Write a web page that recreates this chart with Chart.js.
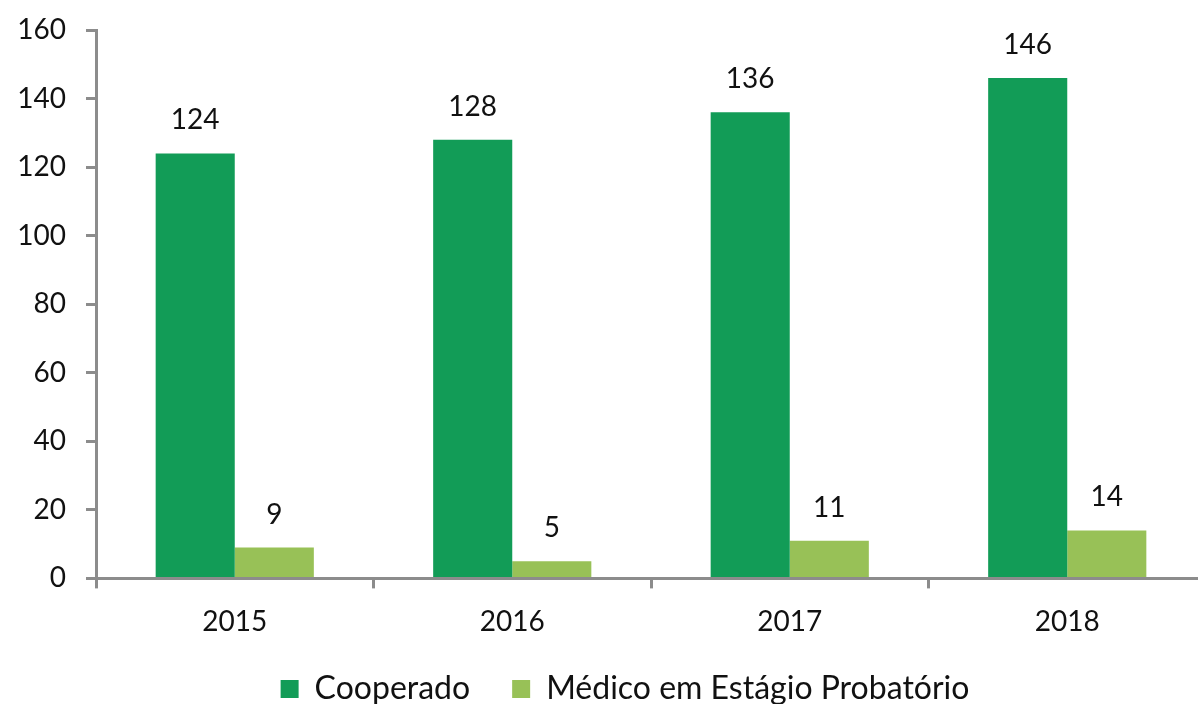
<!DOCTYPE html>
<html>
<head>
<meta charset="utf-8">
<script src="https://cdn.jsdelivr.net/npm/chart.js@4/dist/chart.umd.min.js"></script>
<style>
  html, body { margin: 0; padding: 0; background: #fff; overflow: hidden; }
  #wrap { width: 1210px; height: 704px; }
</style>
</head>
<body>
<div id="wrap"><canvas id="myChart" width="1210" height="704"></canvas></div>
<script>
// data
const years = ['2015', '2016', '2017', '2018'];
const cooperado = [124, 128, 136, 146];
const probatorio = [9, 5, 11, 14];
const seriesNames = ['Cooperado', 'Médico em Estágio Probatório'];

const FONT = 'Lato, "Open Sans", sans-serif';
const axisColor = '#8c8c8c';

// draws the numbers above the bars
const valueLabels = {
  id: 'valueLabels',
  afterDatasetsDraw(chart) {
    const ctx = chart.ctx;
    ctx.save();
    ctx.font = '28px ' + FONT;
    ctx.fillStyle = '#111';
    ctx.textAlign = 'center';
    ctx.textBaseline = 'alphabetic';
    chart.data.datasets.forEach((ds, i) => {
      chart.getDatasetMeta(i).data.forEach((bar, j) => {
        ctx.fillText(String(ds.data[j]), bar.x, bar.y - 24);
      });
    });
    ctx.restore();
  }
};

// the legend sits a bit lower and more to the right than chart.js puts it
const moveLegend = {
  id: 'moveLegend',
  afterLayout(chart) {
    const lg = chart.legend;
    const dx = 22;
    const top = 631;
    lg.left += dx; lg.right += dx;
    lg.bottom = top + lg.height; lg.top = top;
  }
};

const ctx = document.getElementById('myChart').getContext('2d');
new Chart(ctx, {
  type: 'bar',
  data: {
    labels: years,
    datasets: [
      { label: seriesNames[0], data: cooperado, backgroundColor: '#129c57' },
      { label: seriesNames[1], data: probatorio, backgroundColor: '#98c157' }
    ]
  },
  options: {
    responsive: false,
    animation: false,
    layout: { padding: { left: 0, top: 30, right: 4, bottom: -36 } },
    datasets: { bar: { categoryPercentage: 0.57, barPercentage: 1 } },
    scales: {
      x: {
        offset: true,
        grid: { offset: true, drawOnChartArea: false, drawTicks: true, tickLength: 10, color: axisColor, lineWidth: 3 },
        border: { color: axisColor, width: 3 },
        ticks: { color: '#111', font: { family: FONT, size: 28 }, padding: 17 }
      },
      y: {
        min: 0,
        max: 160,
        afterFit(scale) {
          scale.width = 96;
          scale.paddingTop = 0;
          scale.paddingBottom = 0;
        },
        grid: { drawOnChartArea: false, drawTicks: true, tickLength: 10, color: axisColor, lineWidth: 3 },
        border: { color: axisColor, width: 3 },
        ticks: { stepSize: 20, color: '#111', font: { family: FONT, size: 28 }, padding: 20 }
      }
    },
    plugins: {
      legend: {
        display: true,
        position: 'bottom',
        labels: {
          boxWidth: 18,
          boxHeight: 18,
          padding: 42,
          color: '#111',
          font: { family: FONT, size: 32 }
        }
      },
      tooltip: { enabled: false }
    }
  },
  plugins: [valueLabels, moveLegend]
});
</script>
</body>
</html>
